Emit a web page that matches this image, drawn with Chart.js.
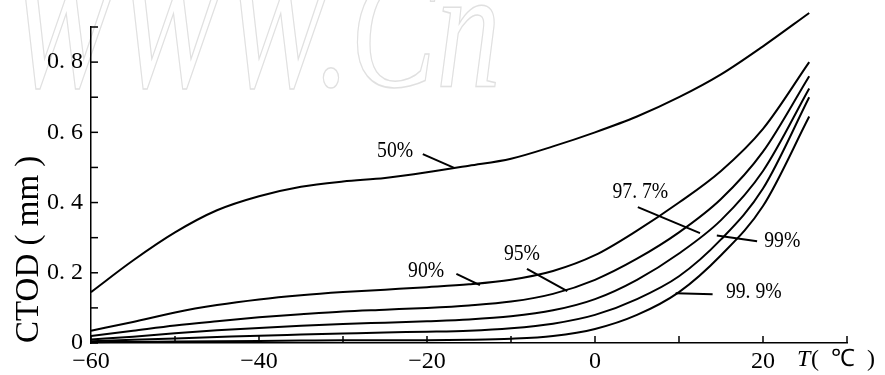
<!DOCTYPE html>
<html>
<head>
<meta charset="utf-8">
<script src="https://cdn.jsdelivr.net/npm/chart.js@4.4.0/dist/chart.umd.min.js"></script>
<style>
  html, body { margin: 0; padding: 0; background: #fff; }
  #ctod { display: block; }
</style>
</head>
<body>
<canvas id="ctod" width="885" height="375"></canvas>
<script>
// temperature (C) and CTOD (mm)
const temps = [-60, -55, -50, -45, -40, -35, -30, -25, -20, -15, -10, -5, 0, 5, 10, 15, 20, 25.5];
const ctod50  = [0.145, 0.235, 0.315, 0.378, 0.418, 0.445, 0.46, 0.47, 0.486, 0.505, 0.525, 0.56, 0.60, 0.645, 0.70, 0.765, 0.845, 0.94];
const ctod90  = [0.035, 0.06, 0.087, 0.108, 0.124, 0.136, 0.145, 0.152, 0.159, 0.167, 0.18, 0.205, 0.25, 0.32, 0.40, 0.49, 0.61, 0.80];
const ctod95  = [0.02, 0.035, 0.05, 0.062, 0.073, 0.082, 0.09, 0.095, 0.1, 0.107, 0.118, 0.14, 0.18, 0.24, 0.315, 0.41, 0.545, 0.76];
const ctod977 = [0.01, 0.018, 0.028, 0.036, 0.043, 0.049, 0.054, 0.058, 0.062, 0.067, 0.076, 0.093, 0.125, 0.18, 0.255, 0.35, 0.49, 0.725];
const ctod99  = [0.005, 0.009, 0.013, 0.017, 0.021, 0.024, 0.027, 0.03, 0.032, 0.035, 0.042, 0.055, 0.08, 0.125, 0.19, 0.295, 0.44, 0.70];
const ctod999 = [0.002, 0.003, 0.004, 0.005, 0.006, 0.007, 0.008, 0.008, 0.008, 0.009, 0.012, 0.02, 0.04, 0.08, 0.145, 0.25, 0.39, 0.645];

const seriesNames = ['50%', '90%', '95%', '97. 7%', '99%', '99. 9%'];
const seriesValues = [ctod50, ctod90, ctod95, ctod977, ctod99, ctod999];

const xTickLabels = { '-60': '−60', '-40': '−40', '-20': '−20', '0': '0', '20': '20' };
const yTickLabels = { 0: '0', 2: '0. 2', 4: '0. 4', 6: '0. 6', 8: '0. 8' };

// label text position and its pointer line, in data units
const callouts = [
  { name: '50%',    at: [-23.8, 0.547], from: [-20.5, 0.538], to: [-16.7, 0.498] },
  { name: '90%',    at: [-20.1, 0.205], from: [-16.5, 0.197], to: [-13.7, 0.165] },
  { name: '95%',    at: [-8.7, 0.253],  from: [-8.1, 0.211],  to: [-3.3, 0.148] },
  { name: '97. 7%', at: [5.4, 0.430],   from: [5.1, 0.387],   to: [12.5, 0.313] },
  { name: '99%',    at: [22.3, 0.29],   from: [19.3, 0.29],   to: [14.5, 0.306] },
  { name: '99. 9%', at: [18.9, 0.145],  from: [14.0, 0.139],  to: [9.6, 0.142] }
];

const datasets = seriesNames.map((name, i) => ({
  label: name,
  data: temps.map((t, j) => ({ x: t, y: seriesValues[i][j] })),
  borderColor: '#000',
  borderWidth: 2,
  pointRadius: 0,
  showLine: true,
  clip: false,
  cubicInterpolationMode: 'monotone'
}));

const paper = {
  id: 'paper',
  beforeDraw(chart) {
    const ctx = chart.ctx;
    ctx.save();
    ctx.fillStyle = '#fff';
    ctx.fillRect(0, 0, chart.width, chart.height);
    // faint watermark of the scan
    ctx.translate(8, 86);
    ctx.scale(1.12, 1.5);
    ctx.font = 'italic 115px "Liberation Serif"';
    ctx.strokeStyle = '#e0e0e0';
    ctx.lineWidth = 1;
    ctx.strokeText('WWW.Cn', 0, 0);
    ctx.restore();
  },
  afterDraw(chart) {
    const ctx = chart.ctx;
    const xs = chart.scales.x, ys = chart.scales.y;
    ctx.save();
    ctx.strokeStyle = '#000';
    ctx.lineWidth = 1.5;
    // inward ticks
    xs.ticks.forEach(t => {
      const px = xs.getPixelForValue(t.value);
      ctx.beginPath();
      ctx.moveTo(px, xs.top);
      ctx.lineTo(px, xs.top - 7);
      ctx.stroke();
    });
    ys.ticks.forEach(t => {
      const py = ys.getPixelForValue(t.value);
      ctx.beginPath();
      ctx.moveTo(ys.right, py);
      ctx.lineTo(ys.right + 7, py);
      ctx.stroke();
    });
    // callouts
    ctx.lineWidth = 2;
    callouts.forEach(c => {
      ctx.beginPath();
      ctx.moveTo(xs.getPixelForValue(c.from[0]), ys.getPixelForValue(c.from[1]));
      ctx.lineTo(xs.getPixelForValue(c.to[0]), ys.getPixelForValue(c.to[1]));
      ctx.stroke();
      ctx.save();
      ctx.translate(xs.getPixelForValue(c.at[0]), ys.getPixelForValue(c.at[1]));
      ctx.scale(0.82, 1);
      ctx.font = '24px "Liberation Serif"';
      ctx.fillStyle = '#000';
      ctx.textAlign = 'center';
      ctx.textBaseline = 'middle';
      ctx.fillText(c.name, 0, 0);
      ctx.restore();
    });
    // x axis title at the right end
    ctx.fillStyle = '#000';
    ctx.textBaseline = 'middle';
    ctx.textAlign = 'left';
    ctx.font = 'italic 24px "Liberation Serif"';
    ctx.fillText('T', 797, 360);
    ctx.font = '24px "Liberation Serif"';
    ctx.fillText('(  ℃  )', 811, 360);
    ctx.restore();
  }
};

new Chart(document.getElementById('ctod'), {
  type: 'scatter',
  data: { datasets: datasets },
  plugins: [paper],
  options: {
    responsive: false,
    animation: false,
    devicePixelRatio: 1,
    layout: { padding: { top: 27, right: 38, left: 0, bottom: 0 } },
    plugins: { legend: { display: false }, tooltip: { enabled: false } },
    scales: {
      x: {
        type: 'linear',
        min: -60,
        max: 30,
        afterFit: s => { s.height = 32; },
        grid: { drawOnChartArea: false, drawTicks: false },
        border: { display: true, color: '#000', width: 1.5 },
        ticks: {
          stepSize: 10,
          autoSkip: false,
          maxRotation: 0,
          padding: 4,
          color: '#000',
          font: { family: 'Liberation Serif', size: 24 },
          callback: v => xTickLabels[String(Math.round(v))] || ''
        }
      },
      y: {
        min: 0,
        max: 0.9,
        afterFit: s => { s.width = 91; },
        grid: { drawOnChartArea: false, drawTicks: false },
        border: { display: true, color: '#000', width: 1.5 },
        ticks: {
          stepSize: 0.1,
          autoSkip: false,
          padding: 8,
          color: '#000',
          font: { family: 'Liberation Serif', size: 24 },
          callback: v => yTickLabels[Math.round(v * 10)] || ''
        },
        title: {
          display: true,
          text: 'CTOD ( mm )',
          align: 'start',
          color: '#000',
          padding: { top: 10 },
          font: { family: 'Liberation Serif', size: 33 }
        }
      }
    }
  }
});
</script>
</body>
</html>
